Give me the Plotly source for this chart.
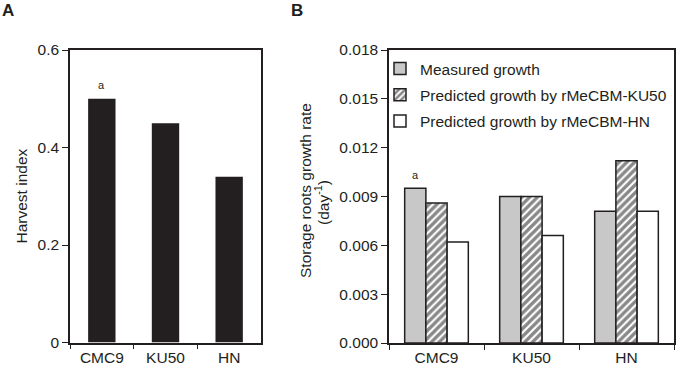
import plotly.graph_objects as go

categories = ["CMC9", "KU50", "HN"]
harvest_index = [0.50, 0.45, 0.34]

measured_growth = [0.0095, 0.0090, 0.0081]
predicted_ku50 = [0.0086, 0.0090, 0.0112]
predicted_hn = [0.0062, 0.0066, 0.0081]

series_names = ["Measured growth", "Predicted growth by rMeCBM-KU50", "Predicted growth by rMeCBM-HN"]

ya_ticks = [0, 0.2, 0.4, 0.6]
yb_ticks = [0.000, 0.003, 0.006, 0.009, 0.012, 0.015, 0.018]

INK = "#231f20"
FONT = "Liberation Sans, Arial, sans-serif"
W, H = 676, 367

fig = go.Figure()

fig.add_trace(go.Bar(x=categories, y=harvest_index, xaxis="x", yaxis="y",
                     marker=dict(color=INK, line=dict(width=0)), showlegend=False,
                     width=0.43))

fig.add_trace(go.Bar(x=categories, y=measured_growth, xaxis="x2", yaxis="y2",
                     name=series_names[0], legendgroup="g1",
                     marker=dict(color="#c8c8c8", line=dict(color=INK, width=1.5))))
fig.add_trace(go.Bar(x=categories, y=predicted_ku50, xaxis="x2", yaxis="y2",
                     name=series_names[1], legendgroup="g2",
                     marker=dict(color="white", line=dict(color=INK, width=1.5),
                                 pattern=dict(shape="/", fgcolor="#111111", bgcolor="white",
                                              size=5.5, solidity=0.6))))
fig.add_trace(go.Bar(x=categories, y=predicted_hn, xaxis="x2", yaxis="y2",
                     name=series_names[2], legendgroup="g3",
                     marker=dict(color="white", line=dict(color=INK, width=1.5))))

def px(x):
    return x / W

def py(y):
    return 1 - y / H

xa = dict(showline=True, linecolor=INK, linewidth=1.5, mirror=True, automargin=False,
          ticks="outside", tickson="boundaries", ticklen=5, tickwidth=1.2, tickcolor=INK,
          tickfont=dict(family=FONT, size=15.5, color=INK), showgrid=False)
yax = dict(showline=True, linecolor=INK, linewidth=1.5, mirror=True, automargin=False,
           ticks="outside", ticklen=6, tickwidth=1.2, tickcolor=INK,
           tickfont=dict(family=FONT, size=15.5, color=INK), showgrid=False, zeroline=False)

fig.update_layout(
    width=W, height=H,
    margin=dict(l=0, r=0, t=0, b=0, autoexpand=False),
    paper_bgcolor="white", plot_bgcolor="white",
    barmode="group", bargap=0.33, bargroupgap=0,
    xaxis=dict(domain=[px(70), px(261)], anchor="y", **xa),
    yaxis=dict(domain=[py(342.5), py(50)], anchor="x", range=[0, 0.6],
               tickvals=ya_ticks, ticktext=["0", "0.2", "0.4", "0.6"], **yax),
    xaxis2=dict(domain=[px(389), px(674)], anchor="y2", **xa),
    yaxis2=dict(domain=[py(343), py(50)], anchor="x2", range=[0, 0.018],
                tickvals=yb_ticks, tickformat=".3f", **yax),
    showlegend=True,
    legend=dict(x=px(380), y=py(52), xanchor="left", yanchor="top",
                traceorder="grouped", tracegroupgap=3,
                bgcolor="rgba(0,0,0,0)", itemwidth=30,
                font=dict(family=FONT, size=15.5, color=INK)),
    font=dict(family=FONT, color=INK),
)

ann = [
    dict(text="<b>A</b>", x=px(0), y=py(-1), xref="paper", yref="paper",
         xanchor="left", yanchor="top", showarrow=False, font=dict(size=17)),
    dict(text="<b>B</b>", x=px(289), y=py(-1), xref="paper", yref="paper",
         xanchor="left", yanchor="top", showarrow=False, font=dict(size=17)),
    dict(text="Harvest index", x=px(20.5), y=py(196), xref="paper", yref="paper",
         xanchor="center", yanchor="middle",
         textangle=-90, showarrow=False, font=dict(size=15.5)),
    dict(text="Storage roots growth rate", x=px(305), y=py(191), xref="paper", yref="paper",
         xanchor="center", yanchor="middle",
         textangle=-90, showarrow=False, font=dict(size=15.5)),
    dict(text="(day<sup>-1</sup>)", x=px(322), y=py(203), xref="paper", yref="paper",
         xanchor="center", yanchor="middle",
         textangle=-90, showarrow=False, font=dict(size=15.5)),
    dict(text="a", x=categories[0], y=harvest_index[0], xref="x", yref="y",
         yanchor="bottom", yshift=6, showarrow=False, font=dict(size=11)),
    dict(text="a", x=categories[0], y=measured_growth[0], xref="x2", yref="y2",
         xshift=-21, yanchor="bottom", yshift=5, showarrow=False, font=dict(size=11)),
]
fig.update_layout(annotations=ann)

fig.write_html("out.html", config={"displayModeBar": False},
               post_script="document.body.style.margin='0';document.body.style.overflow='hidden';")
